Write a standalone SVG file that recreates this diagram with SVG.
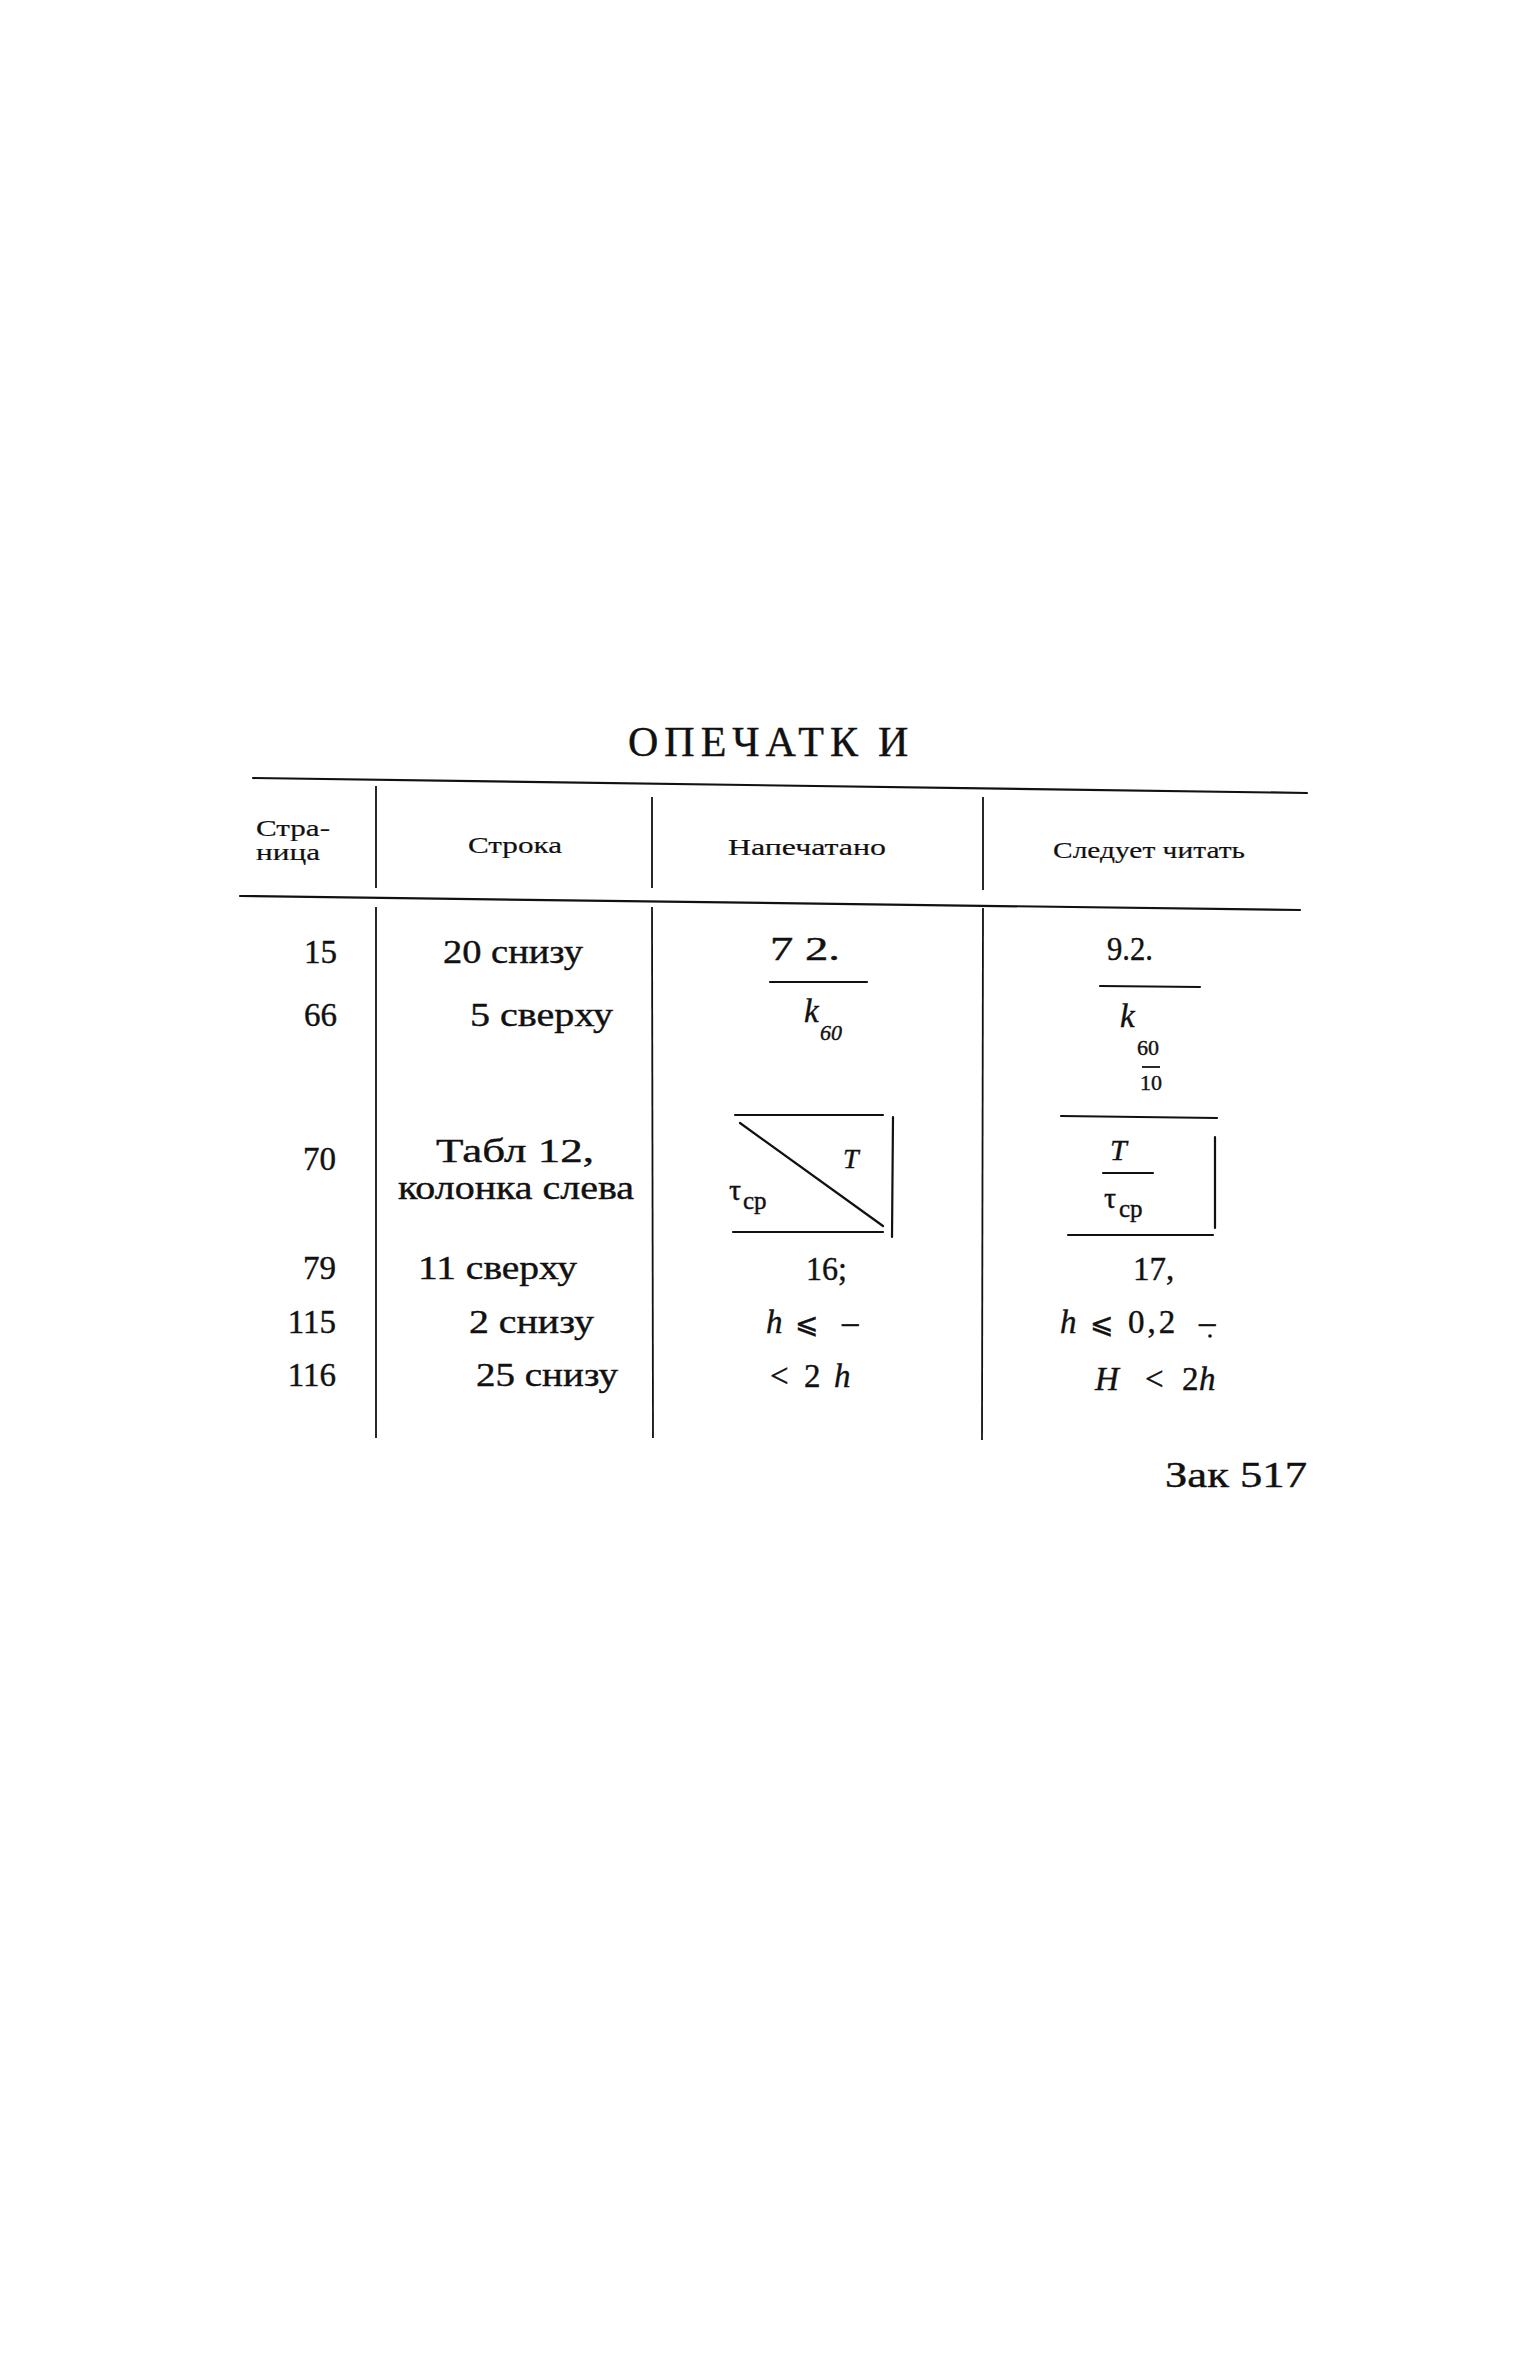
<svg xmlns="http://www.w3.org/2000/svg" width="1536" height="2363" viewBox="0 0 1536 2363">
<style>
.t{font-family:"Liberation Serif","DejaVu Serif",serif;fill:#111;stroke:#111;stroke-width:0.4;}
.b{font-size:33px;}
.h{font-size:24px;stroke-width:0.2;}
.i{font-style:italic;}
.s{font-size:22px;}
.ln{stroke:#111;stroke-width:2.2;fill:none;stroke-linecap:round;}
.th{stroke:#111;stroke-width:1.8;fill:none;}
</style>
<rect width="1536" height="2363" fill="#fff"/>
<g id="title">
<text class="t" x="628" y="756" font-size="42" letter-spacing="6">ОПЕЧАТК<tspan dx="14">И</tspan></text>
</g>
<g id="connectors">
<line class="ln" x1="253" y1="778" x2="1307" y2="793"/>
<line class="ln" x1="240" y1="896" x2="1300" y2="910"/>
<line class="th" x1="376" y1="786" x2="376" y2="888"/>
<line class="th" x1="376" y1="907" x2="376" y2="1438"/>
<line class="th" x1="652" y1="797" x2="652" y2="888"/>
<line class="th" x1="652" y1="907" x2="653" y2="1438"/>
<line class="th" x1="983" y1="797" x2="983" y2="890"/>
<line class="th" x1="983" y1="908" x2="982" y2="1440"/>
</g>
<g id="header">
<text class="t h" x="256" y="836" textLength="74" lengthAdjust="spacingAndGlyphs">Стра-</text>
<text class="t h" x="256" y="860" textLength="64" lengthAdjust="spacingAndGlyphs">ница</text>
<text class="t h" x="468" y="853" textLength="94" lengthAdjust="spacingAndGlyphs">Строка</text>
<text class="t h" x="728" y="855" textLength="158" lengthAdjust="spacingAndGlyphs">Напечатано</text>
<text class="t h" x="1053" y="858" textLength="192" lengthAdjust="spacingAndGlyphs">Следует читать</text>
</g>
<g id="col-page" class="t b" text-anchor="end">
<text x="337" y="963">15</text>
<text x="337" y="1026">66</text>
<text x="336" y="1170">70</text>
<text x="336" y="1279">79</text>
<text x="336" y="1333">115</text>
<text x="336" y="1386">116</text>
</g>
<g id="col-line" class="t b">
<text x="443" y="963" textLength="140" lengthAdjust="spacingAndGlyphs">20  снизу</text>
<text x="470" y="1026" textLength="143" lengthAdjust="spacingAndGlyphs">5  сверху</text>
<text x="436" y="1162" textLength="158" lengthAdjust="spacingAndGlyphs">Табл  12,</text>
<text x="398" y="1199" textLength="236" lengthAdjust="spacingAndGlyphs">колонка  слева</text>
<text x="418" y="1279" textLength="159" lengthAdjust="spacingAndGlyphs">11  сверху</text>
<text x="469" y="1333" textLength="125" lengthAdjust="spacingAndGlyphs">2  снизу</text>
<text x="476" y="1386" textLength="142" lengthAdjust="spacingAndGlyphs">25  снизу</text>
</g>
<g id="col-printed">
<text class="t b" x="770" y="960" textLength="70" lengthAdjust="spacingAndGlyphs">7 2.</text>
<line class="ln" x1="770" y1="982" x2="867" y2="982"/>
<text class="t b i" x="804" y="1022">k</text>
<text class="t s i" x="820" y="1040">60</text>
<g id="box-printed">
<line class="ln" x1="735" y1="1115" x2="883" y2="1115"/>
<line class="ln" x1="740" y1="1123" x2="883" y2="1226"/>
<line class="ln" x1="893" y1="1117" x2="892" y2="1237"/>
<line class="ln" x1="733" y1="1232" x2="883" y2="1232"/>
<text class="t i" x="843" y="1168" font-size="28">T</text>
<text class="t" x="729" y="1200" font-size="30">τ</text>
<text class="t" x="743" y="1209" font-size="25">ср</text>
</g>
<text class="t b" x="806" y="1280" textLength="41" lengthAdjust="spacingAndGlyphs">16;</text>
<text class="t b" x="766" y="1333"><tspan font-style="italic">h</tspan><tspan x="795" font-size="28">⩽</tspan><tspan x="842">–</tspan></text>
<text class="t b" x="770" y="1387"><tspan>&lt;</tspan><tspan x="804">2</tspan><tspan x="834" font-style="italic">h</tspan></text>
</g>
<g id="col-correct">
<text class="t b" x="1107" y="960" textLength="46" lengthAdjust="spacingAndGlyphs">9.2.</text>
<line class="ln" x1="1100" y1="986" x2="1200" y2="987"/>
<text class="t b i" x="1120" y="1027">k</text>
<text class="t s" x="1137" y="1055">60</text>
<line class="th" x1="1142" y1="1067" x2="1160" y2="1067"/>
<text class="t s" x="1140" y="1090">10</text>
<g id="box-correct">
<line class="ln" x1="1061" y1="1116" x2="1217" y2="1118"/>
<text class="t i" x="1110" y="1160" font-size="30">T</text>
<line class="ln" x1="1103" y1="1173" x2="1153" y2="1173"/>
<text class="t" x="1104" y="1208" font-size="30">τ</text>
<text class="t" x="1119" y="1217" font-size="25">ср</text>
<line class="ln" x1="1215" y1="1137" x2="1215" y2="1228"/>
<line class="ln" x1="1068" y1="1235" x2="1213" y2="1235"/>
</g>
<text class="t b" x="1133" y="1280">17,</text>
<text class="t b" x="1060" y="1333"><tspan font-style="italic">h</tspan><tspan x="1090" font-size="28">⩽</tspan><tspan x="1128" letter-spacing="3">0,2</tspan><tspan x="1199">–</tspan></text>
<circle cx="1210" cy="1336" r="1.8" fill="#111"/>
<text class="t b" x="1095" y="1390"><tspan font-style="italic">H</tspan><tspan x="1145">&lt;</tspan><tspan x="1182">2</tspan><tspan x="1199" font-style="italic">h</tspan></text>
</g>
<g id="footer">
<text class="t" x="1165" y="1487" font-size="36" textLength="142" lengthAdjust="spacingAndGlyphs">Зак  517</text>
</g>
</svg>
